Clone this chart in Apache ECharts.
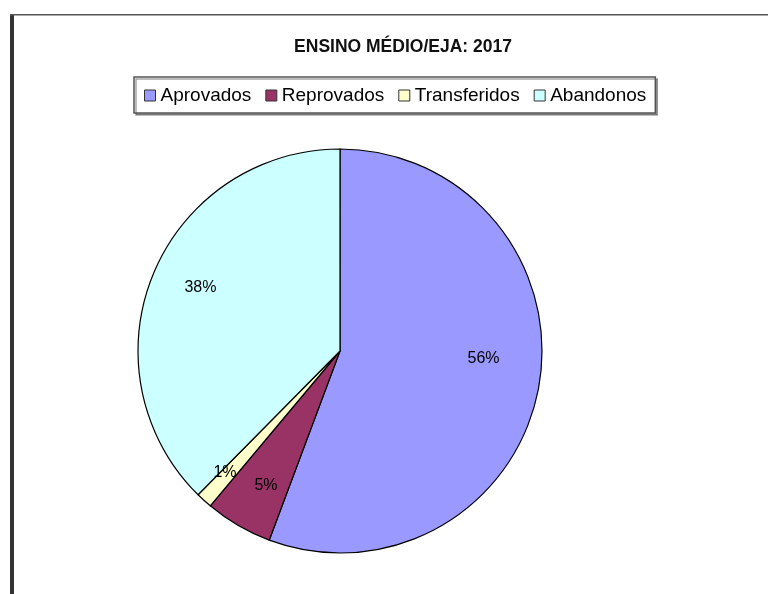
<!DOCTYPE html>
<html>
<head>
<meta charset="utf-8">
<script src="https://cdn.jsdelivr.net/npm/echarts@6/dist/echarts.min.js"></script>
<style>
  html, body { margin: 0; padding: 0; background: #fff; }
  #main { width: 768px; height: 594px; }
</style>
</head>
<body>
<div id="main"></div>
<script>
var myChart = echarts.init(document.getElementById("main"));

// dados
var categorias = ["Aprovados", "Reprovados", "Transferidos", "Abandonos"];
var valores = [55.7, 5.4, 1.3, 37.6];
var cores = ["#9999ff", "#993366", "#ffffcc", "#ccffff"];

var dados = categorias.map(function (c, i) {
  return { name: c, value: valores[i], itemStyle: { color: cores[i] } };
});

// pequenos ajustes de posição dos rótulos (estilo Excel)
var deslocRotulos = [[-7, -20], [3, 2], [-12, 8], [2, -5]];

var option = {
  backgroundColor: "#fff",
  animation: false,
  title: {
    text: "ENSINO MÉDIO/EJA: 2017",
    left: 398,
    textAlign: "center",
    top: 33,
    textStyle: {
      fontFamily: "Liberation Sans",
      fontSize: 17.5,
      fontWeight: "bold",
      color: "#111",
    },
  },
  legend: {
    data: categorias,
    left: 134,
    top: 77,
    icon: "rect",
    itemWidth: 11,
    itemHeight: 11,
    itemGap: 14,
    padding: [9, 9, 8, 10],
    borderColor: "#555",
    borderWidth: 1.5,
    backgroundColor: "#fff",
    shadowColor: "rgba(0,0,0,0.35)",
    shadowOffsetX: 2,
    shadowOffsetY: 2,
    itemStyle: { borderColor: "#333", borderWidth: 1 },
    textStyle: {
      fontFamily: "Liberation Sans",
      fontSize: 19,
      color: "#000",
    },
  },
  graphic: [
    { type: "rect", shape: { x: 10, y: 15, width: 4, height: 579 }, style: { fill: "#333" } },
    { type: "rect", shape: { x: 10, y: 14, width: 758, height: 1.5 }, style: { fill: "#555" } },
  ],
  series: [
    {
      name: "ENSINO MÉDIO/EJA",
      type: "pie",
      center: [340, 351],
      radius: 202,
      startAngle: 90,
      clockwise: true,
      silent: true,
      label: { show: false },
      labelLine: { show: false },
      itemStyle: { borderColor: "#000", borderWidth: 1.2 },
      data: dados,
    },
    {
      // série só para posicionar os rótulos
      name: "rotulos",
      type: "pie",
      center: [340, 351],
      radius: 300,
      startAngle: 90,
      clockwise: true,
      silent: true,
      itemStyle: { color: "rgba(0,0,0,0)" },
      labelLine: { show: false },
      label: {
        position: "inside",
        fontFamily: "Liberation Sans",
        fontSize: 16,
        color: "#000",
        formatter: function (p) {
          return Math.round(p.percent) + "%";
        },
      },
      data: categorias.map(function (c, i) {
        return { name: c, value: valores[i], label: { offset: deslocRotulos[i] } };
      }),
    },
  ],
};

myChart.setOption(option);
</script>
</body>
</html>
